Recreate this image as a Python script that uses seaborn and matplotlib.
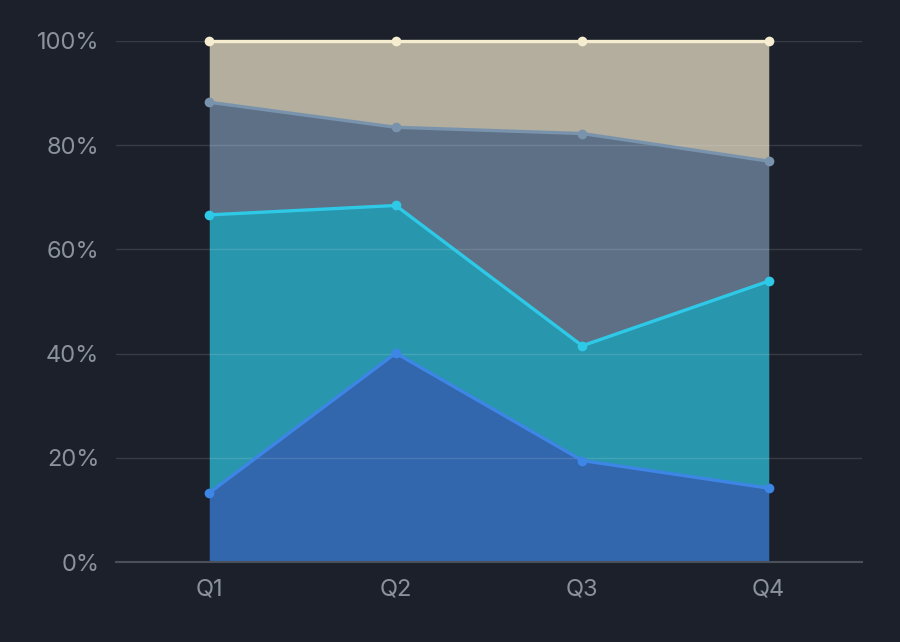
import numpy as np
import pandas as pd
import matplotlib
matplotlib.use("Agg")
import matplotlib.pyplot as plt
import seaborn as sns

quarters = ["Q1", "Q2", "Q3", "Q4"]
series_names = ["A", "B", "C", "D"]
# share of each series per quarter (percent)
s_a = [13.3, 40.1, 19.5, 14.2]
s_b = [53.3, 28.3, 22.0, 39.7]
s_c = [21.6, 15.0, 40.7, 23.0]
s_d = [11.8, 16.6, 17.8, 23.1]
colors = ["#3d86e6", "#2ec9e6", "#7a93ad", "#f6ecd0"]

bg = "#1b202b"
sns.set_theme(style="dark")
plt.rcParams["font.family"] = ["Inter", "DejaVu Sans"]

vals = np.array([s_a, s_b, s_c, s_d], dtype=float)
vals = vals / vals.sum(axis=0) * 100
cum = np.cumsum(vals, axis=0)

rows = []
for i, name in enumerate(series_names):
    for j, q in enumerate(quarters):
        rows.append({"series": name, "quarter": q, "x": j, "top": cum[i, j],
                     "bottom": cum[i - 1, j] if i > 0 else 0.0})
df = pd.DataFrame(rows)

fig, ax = plt.subplots(figsize=(9, 6.42), dpi=100)
fig.patch.set_facecolor(bg)
ax.set_facecolor(bg)
fig.subplots_adjust(left=116/900, right=862/900, top=1-40.7/642, bottom=1-562.2/642)

for i, name in enumerate(series_names):
    d = df[df.series == name]
    ax.fill_between(d["x"], d["bottom"], d["top"], color=colors[i], alpha=0.7,
                    linewidth=0, zorder=1)
for i, name in enumerate(series_names):
    d = df[df.series == name]
    sns.lineplot(data=d, x="x", y="top", ax=ax, color=colors[i], linewidth=2.4,
                 marker="o", markersize=7, markeredgewidth=0, zorder=3,
                 clip_on=False)

ax.set_xlim(-0.5, 3.5)
ax.set_ylim(0, 100)
ax.set_xticks(range(len(quarters)))
ax.set_xticklabels(quarters)
ax.set_yticks([0, 20, 40, 60, 80, 100])
ax.set_yticklabels([f"{v}%" for v in [0, 20, 40, 60, 80, 100]])
ax.tick_params(colors="#8b929c", labelsize=17, length=0)
ax.tick_params(axis="y", pad=12)
ax.tick_params(axis="x", pad=12)
ax.set_xlabel("")
ax.set_ylabel("")
ax.grid(axis="y", color="#ffffff", alpha=0.12, linewidth=1, zorder=2)
ax.grid(axis="x", visible=False)
ax.set_axisbelow(False)
for s in ["top", "right", "left"]:
    ax.spines[s].set_visible(False)
ax.spines["bottom"].set_color("#4a505a")
ax.spines["bottom"].set_linewidth(1.5)
ax.spines["bottom"].set_zorder(4)

fig.savefig("out.png", dpi=100, facecolor=bg)
